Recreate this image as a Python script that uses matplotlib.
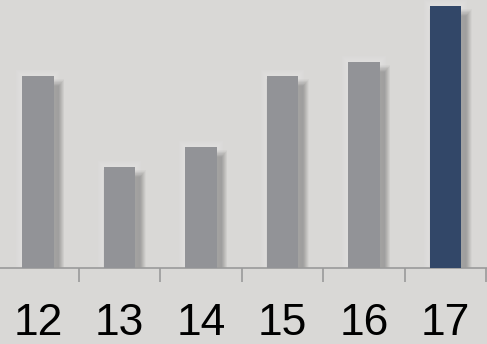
import matplotlib.pyplot as plt
import numpy as np

labels = ['12', '13', '14', '15', '16', '17']
values = [192, 101, 121, 192, 206, 262]
colors = ['#929397', '#929397', '#929397', '#929397', '#929397', '#324768']

bg = '#d9d8d6'
fig = plt.figure(figsize=(4.87, 3.44), dpi=100, facecolor=bg)
ax = fig.add_axes([0, 76 / 344, 1, 268 / 344])
ax.set_facecolor(bg)

x = np.arange(len(labels))
w = 0.39
px = 1 / 81.5  # one pixel in x data units
vals = np.array(values)

# soft light halo
for i in range(6):
    grow = (6 - i) * px
    ax.bar(x, vals + (6 - i), width=w + 2 * grow, color='white', alpha=0.05, zorder=1)
# blurred drop shadow, offset right and down
for k in range(12):
    spread = k * 1.0
    ax.bar(x + 5 * px, vals - 10 + spread * 0.6, width=w + spread * px,
           color='black', alpha=0.022, zorder=2)

ax.bar(x, vals, width=w, color=colors, zorder=3)

ax.set_xlim(-38 / 81.5, (487 - 38) / 81.5)
ax.set_ylim(0, 268)

for s in ['top', 'left', 'right']:
    ax.spines[s].set_visible(False)
ax.spines['bottom'].set_color('#9a9a9a')
ax.spines['bottom'].set_linewidth(1.2)
ax.set_yticks([])

ax.set_xticks(x)
ax.set_xticklabels(labels, fontsize=32, family='Liberation Sans', color='black')
ax.tick_params(axis='x', which='major', length=0, pad=25)
ax.set_xticks(x + 0.5, minor=True)
ax.tick_params(axis='x', which='minor', length=10, width=1.2, color='#9a9a9a')

fig.savefig('out.png', dpi=100, facecolor=bg)
